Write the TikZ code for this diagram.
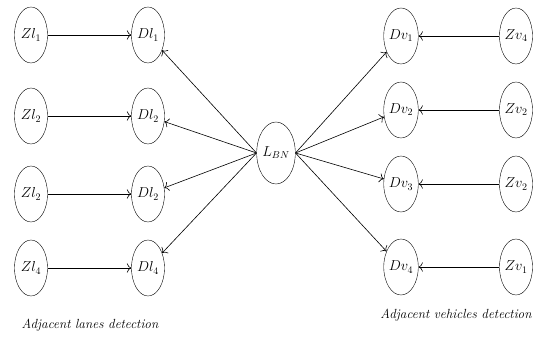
\documentclass[tikz,border=0pt]{standalone}
\usetikzlibrary{shapes.geometric,arrows.meta}
\begin{document}
\begin{tikzpicture}[x=1pt,y=-1pt,
  var/.style={draw,ellipse,minimum width=33pt,minimum height=56pt,inner sep=0pt,font=\fontsize{14}{16}\selectfont},
  arr/.style={-{To[scale=1.5]},semithick},
  captext/.style={font=\fontsize{13.2}{15}\selectfont\itshape}]
\useasboundingbox (0,0) rectangle (540,339);
\node[var] (Zl1) at (31,35) {$Zl_1$};
\node[var] (Zl2) at (31,116) {$Zl_2$};
\node[var] (Zl3) at (31,194) {$Zl_2$};
\node[var] (Zl4) at (31,268) {$Zl_4$};
\node[var] (Dl1) at (148,35) {$Dl_1$};
\node[var] (Dl2) at (148,116) {$Dl_2$};
\node[var] (Dl3) at (148,194) {$Dl_2$};
\node[var] (Dl4) at (148,268) {$Dl_4$};
\node[var,minimum width=32pt,minimum height=62pt] (L) at (276,153) {$L_{BN}$};
\node[var] (Dv1) at (401,36) {$Dv_1$};
\node[var] (Dv2) at (401,110) {$Dv_2$};
\node[var] (Dv3) at (401,184) {$Dv_3$};
\node[var] (Dv4) at (401,267) {$Dv_4$};
\node[var] (Zv1) at (516,36) {$Zv_4$};
\node[var] (Zv2) at (516,110) {$Zv_2$};
\node[var] (Zv3) at (516,184) {$Zv_2$};
\node[var] (Zv4) at (516,267) {$Zv_1$};
\foreach \i in {1,2,3,4}{
  \draw[arr] (Zl\i) -- (Dl\i);
  \draw[arr] (L.west) -- (Dl\i);
  \draw[arr] (L.east) -- (Dv\i);
  \draw[arr] (Zv\i) -- (Dv\i);
}
\node[captext] (capL) at (90,325) {Adjacent lanes detection};
\node[captext] (capR) at (456,315) {Adjacent vehicles detection};
\end{tikzpicture}
\end{document}
